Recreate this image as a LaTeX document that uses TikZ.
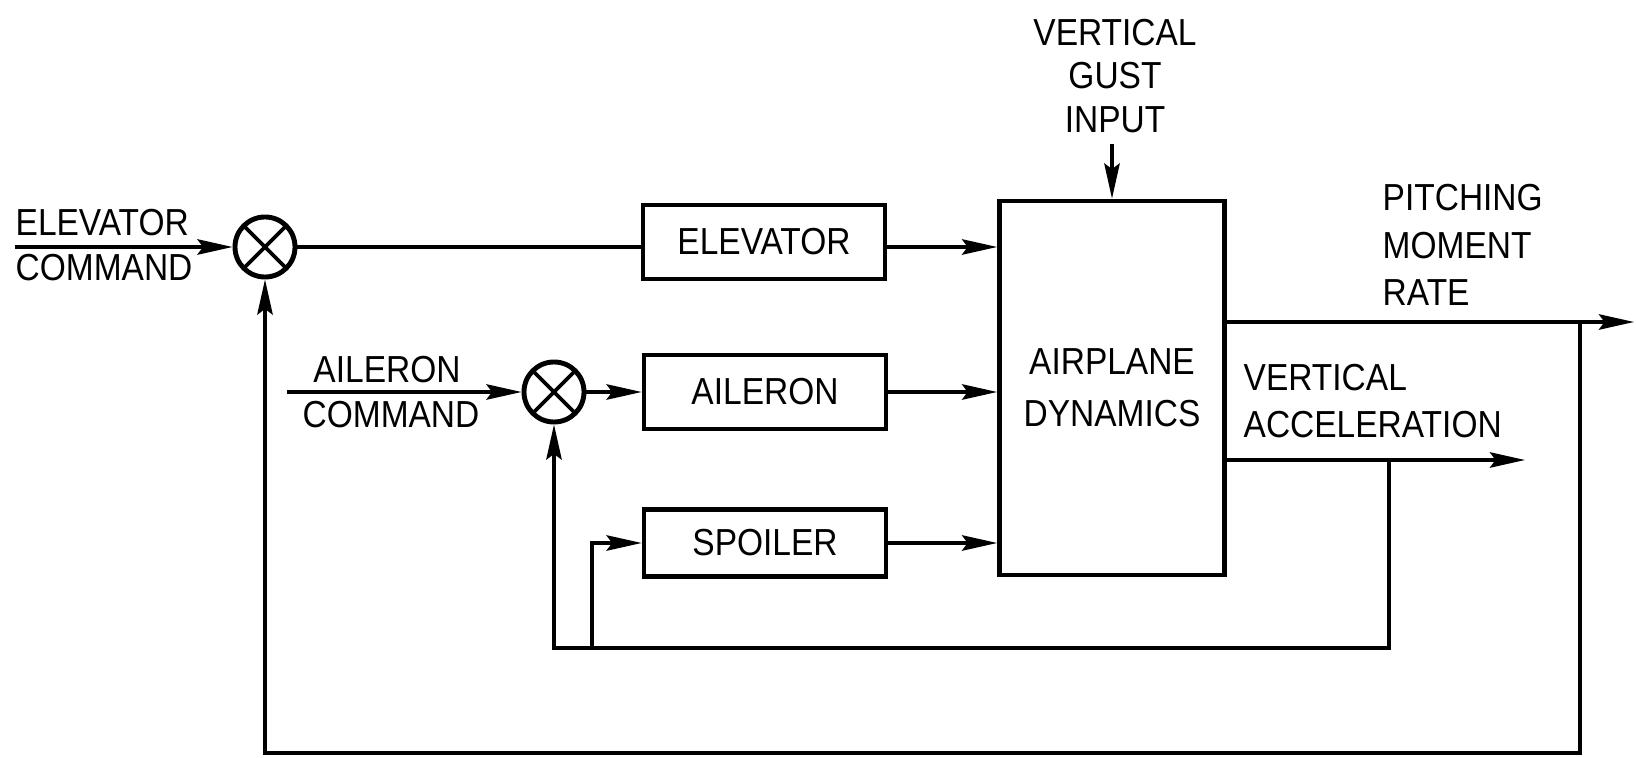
\documentclass[tikz,border=0pt]{standalone}
\usepackage{fontspec}
\setmainfont[FakeStretch=0.89]{Liberation Sans}
\usepackage{tikz}
\usetikzlibrary{arrows.meta,positioning}

\begin{document}
\begin{tikzpicture}[
x=0.01cm, y=-0.01cm,
txt/.style={font=\fontsize{10.7}{13.6}\selectfont, inner sep=0pt, align=left},
block/.style={draw, line width=1.3pt, minimum width=2.42cm, minimum height=0.74cm, font=\fontsize{10.7}{16.7}\selectfont, align=center},
sumjn/.style={draw, circle, line width=1.4pt, minimum size=0.6cm, inner sep=0pt,
  path picture={\draw[line width=1.1pt] (path picture bounding box.north west) -- (path picture bounding box.south east)
  (path picture bounding box.north east) -- (path picture bounding box.south west);}},
arr/.style={line width=0.9pt, -{Stealth[length=10pt, width=4.4pt, inset=1.6pt]}},
ln/.style={line width=0.9pt}
]
\useasboundingbox[fill=white] (0,0) rectangle (1636,758);

\node[sumjn] (esum) at (265,247) {};
\node[sumjn] (asum) at (554,392) {};
\node[block] (elev) at (764,242) {ELEVATOR};
\node[block] (ail) at (765,392) {AILERON};
\node[block, minimum height=0.67cm] (spoil) at (765,543) {SPOILER};
\node[block, minimum width=2.25cm, minimum height=3.74cm] (air) at (1112,388) {AIRPLANE\\[-2pt]DYNAMICS};

\node[txt, anchor=west] (elab) at (15,223) {ELEVATOR};
\node[txt, anchor=west] (ecom) at (15,268) {COMMAND};
\node[txt] (alab) at (387,370) {AILERON};
\node[txt] (acom) at (391,415) {COMMAND};
\node[txt, align=center, font=\fontsize{10.7}{12.4}\selectfont] (gust) at (1115,76) {VERTICAL\\GUST\\INPUT};
\node[txt, anchor=west] (pmr) at (1382,245) {PITCHING\\MOMENT\\RATE};
\node[txt, anchor=west] (vacc) at (1243,401) {VERTICAL\\ACCELERATION};

\coordinate (ecmd) at (15,247);
\coordinate (acmd) at (287,392);
\coordinate (pout) at (1634,322);
\coordinate (vout) at (1525,460);
\coordinate (ptap) at (1580,322);
\coordinate (pbot) at (1580,753);
\coordinate (vtap) at (1389,460);
\coordinate (vbot) at (1389,648);
\coordinate (sbot) at (592,648);

\draw[arr] (ecmd) -- (esum.west);
\draw[ln] (esum.east) -- (esum.east -| elev.west);
\draw[arr] (elev.east |- esum) -- (air.west |- esum);
\draw[arr] (acmd) -- (asum.west);
\draw[arr] (asum.east) -- (ail.west);
\draw[arr] (ail.east) -- (air.west |- ail.east);
\draw[arr] (spoil.east) -- (air.west |- spoil.east);
\draw[arr] ([yshift=-3pt]gust.south -| air.north) -- (air.north);
\draw[arr] (air.east |- pout) -- (pout);
\draw[arr] (air.east |- vout) -- (vout);
\draw[arr] (ptap) -- (pbot) -| (esum.south);
\draw[arr] (vtap) -- (vbot) -| (asum.south);
\draw[arr] (sbot) |- (spoil.west);
\end{tikzpicture}
\end{document}
